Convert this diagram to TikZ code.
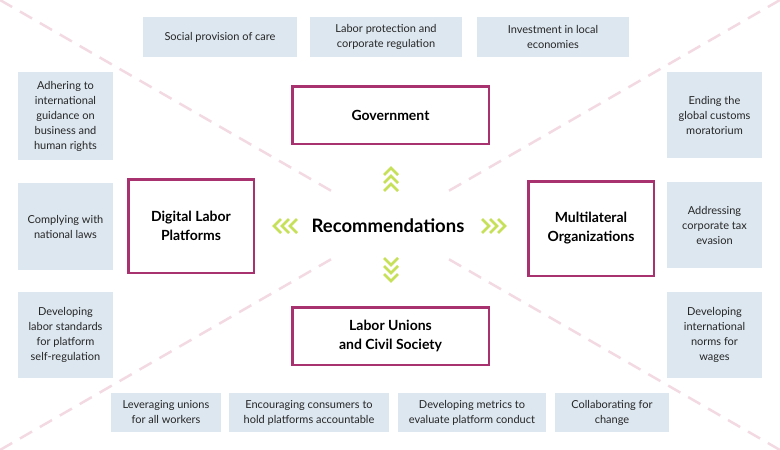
\documentclass[tikz,border=0pt]{standalone}
\usepackage{fontspec}
\setmainfont{Lato}
\begin{document}
\begin{tikzpicture}[x=1pt,y=-1pt,
 rec/.style={fill=boxbg,draw=none,align=center,font=\fontsize{11}{15}\selectfont,text=black!85},
 mag/.style={draw=magc,line width=2.5pt,fill=white,align=center,font=\fontsize{14}{19}\selectfont\bfseries},
 pdash/.style={draw=pinkd,line width=2.5pt,dash pattern=on 14pt off 9pt},
 chev/.style={draw=chevc,line width=2.6pt}]
\definecolor{boxbg}{HTML}{DDE7F0}
\definecolor{magc}{HTML}{A8326F}
\definecolor{pinkd}{HTML}{F3D9E2}
\definecolor{chevc}{HTML}{C6E05A}
\useasboundingbox (0,0) rectangle (780,450);
\coordinate (c1) at (0,0); \coordinate (c2) at (780,0);
\coordinate (c3) at (0,450); \coordinate (c4) at (780,450);
\coordinate (m1) at (335,193); \coordinate (m2) at (445,257);
\coordinate (m3) at (445,193); \coordinate (m4) at (335,257);
\draw[pdash] (c1)--(m1); \draw[pdash] (c4)--(m2);
\draw[pdash] (c2)--(m3); \draw[pdash] (c3)--(m4);
\def\rb#1#2#3#4#5#6{\node[rec,minimum width=#4-#2,minimum height=#5-#3] (#1) at ({(#2+#4)/2},{(#3+#5)/2}) {#6};}
\rb{t1}{143}{17}{297}{57}{Social provision of care}
\rb{t2}{310}{17}{462}{57}{Labor protection and\\corporate regulation}
\rb{t3}{477}{17}{629}{57}{Investment in local\\economies}
\rb{l1}{18}{72}{113}{160}{Adhering to\\international\\guidance on\\business and\\human rights}
\rb{l2}{18}{183}{113}{270}{Complying with\\national laws}
\rb{l3}{18}{292}{113}{378}{Developing\\labor standards\\for platform\\self-regulation}
\rb{r1}{667}{72}{762}{158}{Ending the\\global customs\\moratorium}
\rb{r2}{667}{182}{762}{268}{Addressing\\corporate tax\\evasion}
\rb{r3}{667}{292}{762}{378}{Developing\\international\\norms for\\wages}
\rb{b1}{111}{393}{221}{432}{Leveraging unions\\for all workers}
\rb{b2}{229}{393}{389}{432}{Encouraging consumers to\\hold platforms accountable}
\rb{b3}{398}{393}{546}{432}{Developing metrics to\\evaluate platform conduct}
\rb{b4}{555}{393}{669}{432}{Collaborating for\\change}
\def\mb#1#2#3#4#5#6{\node[mag,minimum width=#4-#2-2.5,minimum height=#5-#3-2.5] (#1) at ({(#2+#4)/2},{(#3+#5)/2}) {#6};}
\mb{gov}{291}{85}{490}{145}{Government}
\mb{dig}{127}{178}{255}{274}{Digital Labor\\Platforms}
\mb{mul}{527}{180}{655}{277}{Multilateral\\Organizations}
\mb{lab}{291}{306}{490}{366}{Labor Unions\\and Civil Society}
\node[font=\fontsize{18.5}{22}\selectfont\bfseries] (rc) at (388,226) {Recommendations};
\foreach \i in {0,1,2}{
 \draw[chev] (384,{175+\i*8}) -- (391,{168+\i*8}) -- (398,{175+\i*8});
 \draw[chev] (384,{258+\i*8}) -- (391,{265+\i*8}) -- (398,{258+\i*8});
 \draw[chev] ({281+\i*8},219) -- ({274+\i*8},226) -- ({281+\i*8},233);
 \draw[chev] ({482+\i*8},219) -- ({489+\i*8},226) -- ({482+\i*8},233);
}
\end{tikzpicture}
\end{document}
